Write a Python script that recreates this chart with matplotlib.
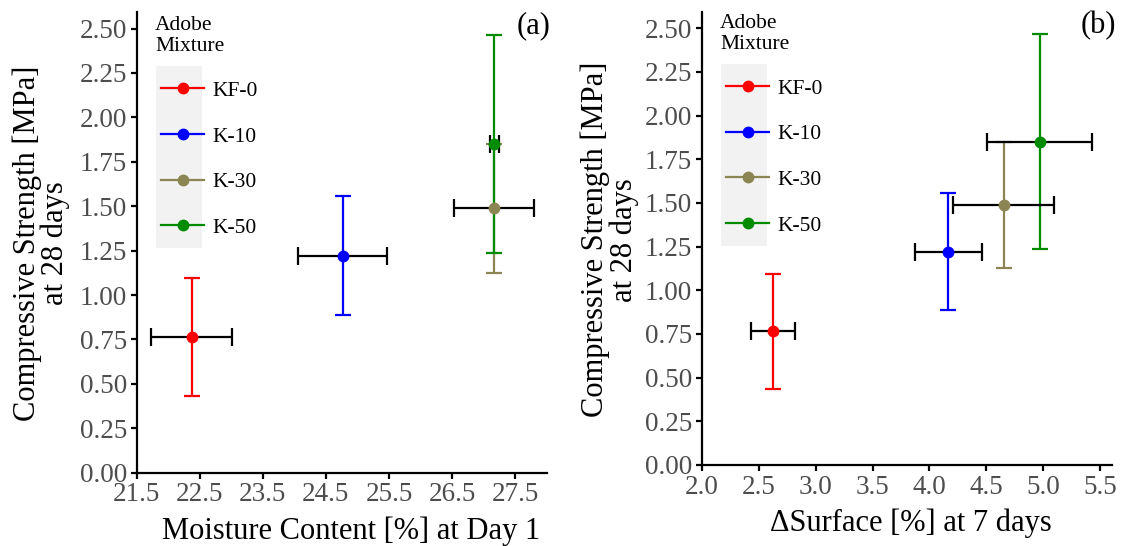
import matplotlib
matplotlib.use("Agg")
import matplotlib.pyplot as plt
from matplotlib.lines import Line2D
from matplotlib.patches import Rectangle

plt.rcParams['font.family'] = ['Liberation Serif', 'DejaVu Serif']

# ---- data ----
mixtures = ["KF-0", "K-10", "K-30", "K-50"]
colors = ["#FF0000", "#0000FF", "#8B8553", "#008B00"]

strength_mean = [0.765, 1.222, 1.488, 1.850]
strength_sd = [0.331, 0.333, 0.363, 0.615]

moisture_mean = [22.37, 24.77, 27.16, 27.17]
moisture_sd = [0.64, 0.705, 0.635, 0.066]

surface_mean = [2.624, 4.167, 4.650, 4.967]
surface_sd = [0.195, 0.290, 0.440, 0.460]

xticks_a = [21.5, 22.5, 23.5, 24.5, 25.5, 26.5, 27.5]
xticks_b = [2.0, 2.5, 3.0, 3.5, 4.0, 4.5, 5.0, 5.5]
yticks = [0.0, 0.25, 0.5, 0.75, 1.0, 1.25, 1.5, 1.75, 2.0, 2.25, 2.5]

W, H = 1122, 546
fig = plt.figure(figsize=(W / 100, H / 100), dpi=100)

def fx(px):
    return px / W

def fy(py):
    return 1 - py / H

ax_a = fig.add_axes([fx(136.7), fy(472.7), fx(546.7) - fx(136.7), fy(11.7) - fy(472.7)])
ax_b = fig.add_axes([fx(701.7), fy(465.0), fx(1111.7) - fx(701.7), fy(11.7) - fy(465.0)])

LW = 1.6
TICKCOL = "#4D4D4D"
LEGFS = 15.5

def panel(ax, xm, xs, xlim, xticks, xlabel, tag, lay):
    for i in range(len(mixtures)):
        ax.errorbar(xm[i], strength_mean[i], yerr=strength_sd[i], fmt='none',
                    ecolor=colors[i], elinewidth=LW, capsize=5.5, capthick=LW, zorder=2)
    for i in range(len(mixtures)):
        ax.errorbar(xm[i], strength_mean[i], xerr=xs[i], fmt='none',
                    ecolor='black', elinewidth=LW, capsize=6.5, capthick=LW, zorder=3)
    for i in range(len(mixtures)):
        ax.plot(xm[i], strength_mean[i], 'o', color=colors[i], markersize=7.5,
                zorder=4, clip_on=False)
    ax.set_xlim(*xlim)
    ax.set_ylim(0, 2.595)
    ax.set_xticks(xticks)
    ax.set_xticklabels([f"{v:.1f}" for v in xticks])
    ax.set_yticks(yticks)
    ax.set_yticklabels([f"{v:.2f}" for v in yticks])
    for s in ["top", "right"]:
        ax.spines[s].set_visible(False)
    for s in ["left", "bottom"]:
        ax.spines[s].set_linewidth(1.6)
    ax.tick_params(axis='both', length=4.5, width=1.6, color='black',
                   labelcolor=TICKCOL, labelsize=19.5, pad=2.5)
    ax.tick_params(axis='x', pad=2.5)
    ax.set_xlabel(xlabel, fontsize=22)
    ax.xaxis.set_label_coords(lay['xl'][0], lay['xl'][1])
    ax.set_ylabel("Compressive Strength [MPa]\nat 28 days", fontsize=22,
                  linespacing=0.95)
    ax.yaxis.set_label_coords(lay['yl'], 0.497)
    ax.text(1.01, 0.97, tag, transform=ax.transAxes, ha='right', va='center',
            fontsize=22)
    bx0, by0, bx1, by1 = lay['box']
    ax.add_patch(Rectangle((fx(bx0), fy(by1)), fx(bx1) - fx(bx0), fy(by0) - fy(by1),
                           transform=fig.transFigure, facecolor="#F2F2F2",
                           edgecolor='none', zorder=0))
    tx, ty = lay['title']
    ax.text(fx(tx), fy(ty), "Adobe\nMixture", transform=fig.transFigure,
            ha='left', va='top', fontsize=LEGFS, linespacing=1.15)
    handles = [Line2D([], [], color=c, lw=LW, marker='o', markersize=7.5) for c in colors]
    lx, ly = lay['leg']
    ax.legend(handles, mixtures, frameon=False,
              loc='upper left', bbox_to_anchor=(fx(lx), fy(ly)),
              bbox_transform=fig.transFigure, fontsize=LEGFS,
              handlelength=2.0, handletextpad=0.4, labelspacing=1.19,
              borderpad=0, borderaxespad=0)

panel(ax_a, moisture_mean, moisture_sd, (21.5, 28.0), xticks_a,
      "Moisture Content [%] at Day 1", "(a)",
      dict(box=(156, 66, 201.7, 247.7), title=(155, 16), leg=(161, 80.8),
           xl=(0.524, -0.094), yl=-0.162))
panel(ax_b, surface_mean, surface_sd, (2.0, 5.6), xticks_b,
      "\u0394Surface [%] at 7 days", "(b)",
      dict(box=(720.7, 64, 766.7, 245.7), title=(720, 14), leg=(726, 78.5),
           xl=(0.51, -0.097), yl=-0.154))

fig.savefig("out.png", dpi=100)
